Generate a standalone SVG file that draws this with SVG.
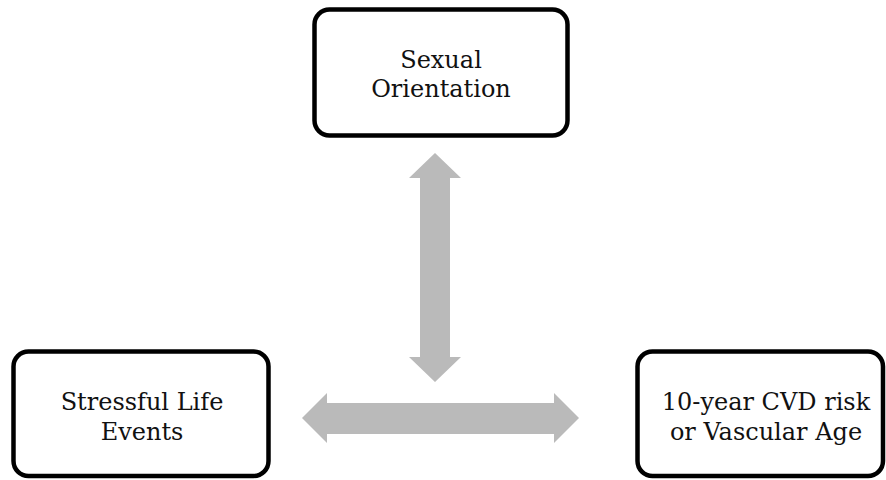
<svg xmlns="http://www.w3.org/2000/svg" width="886" height="480" viewBox="0 0 886 480">
<style>
.box{fill:#fff;stroke:#000;stroke-width:4.5}
.lbl{font-family:"DejaVu Serif","Liberation Serif",serif;font-size:24px;fill:#111;text-anchor:middle}
.arr{fill:#bababa}
</style>
<rect width="886" height="480" fill="#fff"/>
<g id="connectors">
<polygon class="arr" points="435,153 461,178 450,178 450,357 461,357 435,382 409,357 420,357 420,178 409,178"/>
<polygon class="arr" points="302,418 327,393 327,403 554,403 554,393 579,418 554,443 554,434 327,434 327,443"/>
</g>
<g id="sexual-orientation">
<rect class="box" x="314.5" y="9.5" width="253" height="126" rx="15"/>
<text class="lbl" x="441" y="68">Sexual</text>
<text class="lbl" x="441" y="97">Orientation</text>
</g>
<g id="stressful-life-events">
<rect class="box" x="13.5" y="351.5" width="255" height="124.5" rx="15"/>
<text class="lbl" x="142" y="410">Stressful Life</text>
<text class="lbl" x="142" y="440">Events</text>
</g>
<g id="cvd-risk">
<rect class="box" x="637.5" y="351.5" width="245.5" height="124.5" rx="15"/>
<text class="lbl" x="766" y="410">10-year CVD risk</text>
<text class="lbl" x="766" y="440">or Vascular Age</text>
</g>
</svg>
